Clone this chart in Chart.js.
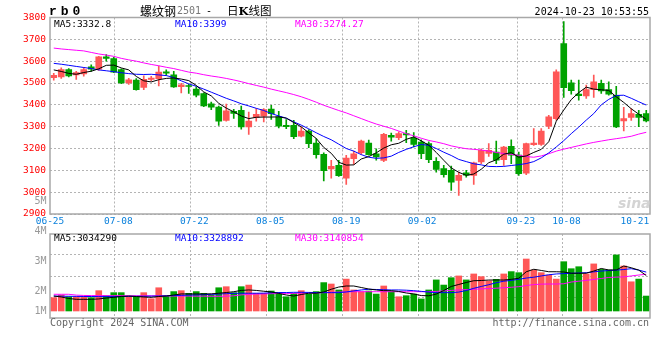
<!DOCTYPE html>
<html>
<head>
<meta charset="utf-8">
<script src="https://cdn.jsdelivr.net/npm/chart.js@4.4.1/dist/chart.umd.min.js"></script>
<style>
body { margin: 0; background: #fff; width: 660px; height: 360px; overflow: hidden; position: relative; }
canvas { position: absolute; left: 0; }
.m { position: absolute; white-space: nowrap; font-family: 'DejaVu Sans Mono', monospace; font-size: 9.5px; line-height: 12px; z-index: 2; }
.g { color: #999; font-size: 10px; text-align: right; width: 30px; left: 16.5px; }
</style>
</head>
<body>
<canvas id="kChart" width="660" height="232" style="top:0"></canvas>
<canvas id="volChart" width="660" height="100" style="top:226px"></canvas>

<div class="m" style="left:49px;top:4px;font-family:'Liberation Mono';font-weight:bold;font-size:13px;letter-spacing:4px;line-height:15px">rb0</div>
<div class="m" style="left:140px;top:3px;font-family:'Noto Sans CJK SC';font-size:12px;line-height:15px">螺纹钢</div>
<div class="m" style="left:177px;top:4.5px;color:#777;font-size:10px">2501</div>
<div class="m" style="left:206px;top:4.5px;font-size:10px">-</div>
<div class="m" style="left:227px;top:3px;font-family:'Noto Sans CJK SC';font-size:11.5px;line-height:15px">日<b style="font-family:'DejaVu Serif'">K</b>线图</div>
<div class="m" style="right:11px;top:5.5px;font-size:10px">2024-10-23 10:53:55</div>

<div class="m" id="lg5" style="left:54px;top:18px;color:#000"></div>
<div class="m" id="lg10" style="left:175px;top:18px;color:#0000ff"></div>
<div class="m" id="lg30" style="left:295px;top:18px;color:#ff00ff"></div>

<div class="m" id="vlg5" style="left:54px;top:232px;color:#000"></div>
<div class="m" id="vlg10" style="left:175px;top:232px;color:#0000ff"></div>
<div class="m" id="vlg30" style="left:295px;top:232px;color:#ff00ff"></div>

<div id="volLabels"></div>

<div class="m" style="left:618px;top:196px;font-family:'DejaVu Sans';font-weight:bold;font-style:italic;font-size:14px;color:#d4d4d4;line-height:14px;z-index:1">sina</div>

<div class="m" style="left:50px;top:316.5px;font-size:10px;color:#666">Copyright 2024 SINA.COM</div>
<div class="m" style="right:11px;top:316.5px;font-size:10px;color:#666">http://finance.sina.com.cn</div>

<script>
// trading days shown on the chart
var dates = ['06-25','06-26','06-27','06-28','07-01','07-02','07-03','07-04','07-05','07-08',
  '07-09','07-10','07-11','07-12','07-15','07-16','07-17','07-18','07-19','07-22',
  '07-23','07-24','07-25','07-26','07-29','07-30','07-31','08-01','08-02','08-05',
  '08-06','08-07','08-08','08-09','08-12','08-13','08-14','08-15','08-16','08-19',
  '08-20','08-21','08-22','08-23','08-26','08-27','08-28','08-29','08-30','09-02',
  '09-03','09-04','09-05','09-06','09-09','09-10','09-11','09-12','09-13','09-18',
  '09-19','09-20','09-23','09-24','09-25','09-26','09-27','09-30','10-08','10-09',
  '10-10','10-11','10-14','10-15','10-16','10-17','10-18','10-21','10-22','10-23'];

var xTickDates = ['06-25','07-08','07-22','08-05','08-19','09-02','09-23','10-08','10-21'];
var gridDates = ['07-08','07-22','08-05','08-19','09-02','09-23','10-08'];

var open = [3524,3528,3562,3537,3542,3574,3563,3620,3612,3562,
  3500,3513,3480,3516,3520,3551,3537,3483,3487,3472,
  3452,3405,3390,3329,3370,3375,3299,3342,3348,3380,
  3345,3306,3306,3256,3280,3225,3173,3106,3123,3064,
  3153,3181,3225,3176,3145,3260,3250,3268,3248,3229,
  3222,3141,3108,3100,3054,3089,3077,3138,3178,3184,
  3149,3210,3170,3087,3218,3219,3302,3337,3681,3501,
  3449,3441,3470,3498,3470,3444,3326,3342,3357,3360];
var high = [3544,3570,3566,3554,3571,3583,3622,3630,3618,3565,
  3521,3520,3533,3530,3577,3560,3554,3498,3495,3482,
  3455,3413,3394,3403,3379,3394,3367,3383,3383,3398,
  3370,3333,3329,3299,3287,3245,3180,3146,3146,3169,
  3188,3238,3238,3199,3270,3271,3276,3283,3273,3240,
  3230,3158,3123,3120,3092,3100,3138,3199,3222,3234,
  3210,3240,3184,3225,3291,3291,3352,3560,3781,3513,
  3513,3490,3536,3513,3505,3485,3388,3383,3375,3375];
var low = [3513,3521,3528,3516,3531,3553,3558,3600,3547,3497,
  3493,3467,3470,3510,3487,3535,3480,3455,3452,3436,
  3392,3378,3306,3325,3338,3288,3265,3325,3322,3333,
  3294,3291,3245,3253,3204,3156,3051,3064,3072,3035,
  3127,3173,3169,3146,3140,3234,3241,3227,3207,3153,
  3135,3092,3069,3008,2985,3069,3035,3130,3164,3130,
  3123,3130,3077,3080,3214,3214,3291,3330,3434,3449,
  3421,3429,3434,3452,3444,3295,3280,3329,3300,3322];
var close = [3535,3562,3533,3548,3562,3563,3620,3613,3550,3500,
  3515,3470,3517,3522,3550,3545,3482,3492,3484,3444,
  3395,3389,3325,3372,3361,3299,3326,3357,3378,3360,
  3302,3300,3254,3280,3222,3172,3098,3118,3075,3156,
  3176,3234,3172,3162,3265,3252,3268,3262,3219,3176,
  3149,3104,3080,3046,3077,3078,3134,3192,3192,3146,
  3207,3170,3085,3222,3225,3280,3345,3551,3479,3465,
  3442,3470,3505,3464,3449,3299,3337,3360,3342,3326];

var ma5 = [3560,3553,3544,3540,3548,3554,3565,3581,3582,3569,
  3560,3530,3510,3505,3515,3521,3523,3518,3511,3489,
  3459,3441,3407,3385,3368,3349,3337,3343,3344,3344,
  3345,3339,3319,3299,3272,3246,3205,3178,3137,3124,
  3125,3152,3163,3180,3202,3217,3224,3242,3253,3235,
  3215,3182,3146,3111,3091,3077,3083,3105,3135,3148,
  3174,3181,3160,3166,3182,3196,3231,3325,3376,3424,
  3456,3481,3472,3469,3466,3437,3411,3382,3357,3332.8];
var ma10 = [3590,3586,3581,3576,3571,3566,3560,3556,3552,3547,
  3543,3540,3539,3540,3537,3534,3525,3510,3496,3485,
  3472,3458,3444,3430,3418,3405,3395,3384,3374,3360,
  3349,3339,3322,3307,3290,3272,3255,3240,3220,3200,
  3188,3172,3160,3155,3157,3165,3182,3196,3208,3218,
  3215,3200,3183,3168,3150,3140,3130,3125,3118,3117,
  3118,3122,3126,3131,3140,3157,3180,3207,3236,3268,
  3298,3330,3360,3400,3425,3443,3444,3430,3414,3399];
var ma30 = [3660,3656,3653,3650,3647,3640,3633,3628,3622,3613,
  3606,3600,3592,3585,3579,3572,3566,3558,3550,3545,
  3538,3532,3527,3521,3514,3506,3497,3489,3481,3472,
  3464,3456,3447,3437,3425,3412,3398,3386,3374,3363,
  3350,3337,3324,3312,3302,3292,3280,3268,3258,3247,
  3237,3230,3222,3212,3205,3199,3196,3193,3188,3182,
  3177,3173,3169,3163,3160,3166,3176,3188,3197,3205,
  3213,3221,3228,3234,3240,3245,3250,3256,3266,3274.27];

// volume in millions
var volume = [1.14,1.37,1.22,1.22,1.22,1.14,1.74,1.31,1.57,1.57,
  1.22,1.22,1.57,1.05,1.99,1.28,1.66,1.74,1.51,1.66,
  1.51,1.37,1.99,2.08,1.57,2.08,2.22,1.51,1.51,1.71,
  1.57,1.22,1.51,1.74,1.45,1.66,2.43,2.31,1.80,2.73,
  1.80,1.66,1.71,1.45,2.14,1.66,1.22,1.31,1.45,1.03,
  1.80,2.66,2.22,2.85,3.00,2.66,3.17,2.94,2.57,2.71,
  3.17,3.37,3.28,4.45,3.51,3.28,3.08,2.73,4.22,3.62,
  3.79,3.17,4.03,3.56,3.51,4.80,3.85,2.50,2.73,1.28];
var volMa5 = [1.28,1.20,1.07,1.00,1.00,1.00,1.03,1.11,1.17,1.24,
  1.28,1.24,1.20,1.17,1.24,1.28,1.37,1.46,1.46,1.46,
  1.46,1.47,1.52,1.58,1.65,1.76,1.80,1.76,1.69,1.63,
  1.50,1.37,1.28,1.41,1.52,1.52,1.63,1.86,2.05,2.14,
  2.14,2.01,1.88,1.80,1.74,1.74,1.67,1.54,1.46,1.32,
  1.30,1.45,1.75,2.10,2.27,2.44,2.59,2.61,2.65,2.65,
  2.65,2.71,2.80,3.36,3.57,3.47,3.36,3.36,3.34,3.23,
  3.23,3.23,3.42,3.64,3.51,3.51,3.85,3.70,3.50,3.03429];
var volMa10 = [1.28,1.27,1.26,1.25,1.24,1.24,1.23,1.23,1.23,1.24,
  1.25,1.26,1.26,1.27,1.28,1.30,1.32,1.34,1.36,1.38,
  1.40,1.42,1.45,1.48,1.51,1.52,1.52,1.52,1.53,1.56,
  1.58,1.58,1.60,1.60,1.59,1.58,1.57,1.57,1.57,1.63,
  1.72,1.80,1.86,1.84,1.82,1.80,1.80,1.78,1.74,1.68,
  1.62,1.57,1.57,1.57,1.62,1.75,1.94,2.10,2.25,2.42,
  2.55,2.62,2.71,2.82,2.89,3.00,3.10,3.17,3.20,3.23,
  3.25,3.28,3.35,3.42,3.46,3.50,3.55,3.62,3.50,3.328892];
var volMa30 = [1.43,1.43,1.43,1.36,1.33,1.32,1.32,1.31,1.31,1.31,
  1.30,1.30,1.30,1.30,1.30,1.29,1.28,1.28,1.28,1.27,
  1.27,1.26,1.26,1.27,1.30,1.38,1.42,1.45,1.46,1.48,
  1.50,1.50,1.51,1.53,1.54,1.55,1.57,1.60,1.62,1.64,
  1.65,1.65,1.65,1.65,1.65,1.65,1.65,1.65,1.65,1.65,
  1.66,1.68,1.72,1.76,1.80,1.83,1.86,1.89,1.92,1.95,
  1.99,2.03,2.08,2.18,2.26,2.30,2.31,2.31,2.33,2.48,
  2.55,2.62,2.70,2.78,2.87,2.90,2.92,3.00,3.08,3.140854];

var priceMin = 2900, priceMax = 3800, priceStep = 100;
var volTickLabels = ['5M', '4M', '3M', '2M', '1M'];

var RED = '#ff5757', GREEN = '#00a200';
var FONT = 'DejaVu Sans Mono';
var last = dates.length - 1;

var colors = [];
for (var i = 0; i < close.length; i++) {
  colors.push(close[i] >= open[i] ? RED : GREEN);
}

// legends
document.getElementById('lg5').textContent = 'MA5:' + ma5[last];
document.getElementById('lg10').textContent = 'MA10:' + ma10[last];
document.getElementById('lg30').textContent = 'MA30:' + ma30[last];
document.getElementById('vlg5').textContent = 'MA5:' + Math.round(volMa5[last] * 1e6);
document.getElementById('vlg10').textContent = 'MA10:' + Math.round(volMa10[last] * 1e6);
document.getElementById('vlg30').textContent = 'MA30:' + Math.round(volMa30[last] * 1e6);

// volume axis labels (sina puts them on its own fixed rows)
var volLabelTops = [194.5, 224.5, 254.5, 284.5, 304.5];
var box = document.getElementById('volLabels');
for (var k = 0; k < volTickLabels.length; k++) {
  var d = document.createElement('div');
  d.className = 'm g';
  d.style.top = volLabelTops[k] + 'px';
  d.textContent = volTickLabels[k];
  box.appendChild(d);
}

// grey frame round the plot
var frame = {
  id: 'frame',
  afterDraw: function(chart) {
    var a = chart.chartArea;
    var c = chart.ctx;
    c.save();
    c.strokeStyle = '#a8a8a8';
    c.lineWidth = 1.5;
    c.strokeRect(a.left, a.top, a.right - a.left, a.bottom - a.top);
    c.restore();
  }
};

function maLine(data, color) {
  return {
    type: 'line', data: data, borderColor: color, borderWidth: 1,
    pointRadius: 0, tension: 0, xAxisID: 'x', yAxisID: 'y', order: 0
  };
}

function dateGrid(showLabels, h) {
  return {
    type: 'category', offset: false, position: 'bottom',
    grid: {
      drawTicks: false,
      color: function(ctx) {
        return gridDates.indexOf(dates[ctx.index]) >= 0 ? '#b4b4b4' : 'rgba(0,0,0,0)';
      }
    },
    border: { display: false, dash: [2, 2] },
    ticks: {
      display: showLabels, autoSkip: false, maxRotation: 0, padding: 2,
      color: '#0a80dc', font: { family: FONT, size: 9.5 },
      callback: function(v) {
        var lab = this.getLabelForValue(v);
        return xTickDates.indexOf(lab) >= 0 ? lab : '';
      }
    },
    afterFit: function(s) { s.height = h; }
  };
}

var kChart = new Chart(document.getElementById('kChart'), {
  type: 'bar',
  data: {
    labels: dates,
    datasets: [
      maLine(ma5, '#000000'),
      maLine(ma10, '#0000ff'),
      maLine(ma30, '#ff00ff'),
      {
        data: open.map(function(o, i) { return [o, close[i]]; }),
        backgroundColor: colors, barThickness: 6, minBarLength: 1,
        grouped: false, xAxisID: 'x', yAxisID: 'y', order: 1
      },
      {
        data: low.map(function(l, i) { return [l, high[i]]; }),
        backgroundColor: colors, barThickness: 1,
        grouped: false, xAxisID: 'x', yAxisID: 'y', order: 2
      }
    ]
  },
  options: {
    responsive: false,
    animation: false,
    layout: { padding: { top: 17.5, right: 10, left: 0, bottom: 0 } },
    plugins: { legend: { display: false }, tooltip: { enabled: false } },
    scales: {
      x: { type: 'category', offset: true, display: false },
      x2: dateGrid(true, 18),
      y: {
        min: priceMin, max: priceMax, position: 'left',
        ticks: {
          stepSize: priceStep, color: '#ff0000', padding: 4, font: { family: FONT, size: 9.5 },
          callback: function(v) { return String(v); }
        },
        grid: { color: '#b4b4b4', drawTicks: false },
        border: { display: false, dash: [2, 2] },
        afterFit: function(s) { s.width = 50; }
      }
    }
  },
  plugins: [frame]
});

var volChart = new Chart(document.getElementById('volChart'), {
  type: 'bar',
  data: {
    labels: dates,
    datasets: [
      maLine(volMa5, '#000000'),
      maLine(volMa10, '#0000ff'),
      maLine(volMa30, '#ff00ff'),
      {
        data: volume, backgroundColor: colors, barThickness: 6,
        xAxisID: 'x', yAxisID: 'y', order: 1
      }
    ]
  },
  options: {
    responsive: false,
    animation: false,
    layout: { padding: { top: 8, right: 10, left: 0, bottom: 8 } },
    plugins: { legend: { display: false }, tooltip: { enabled: false } },
    scales: {
      x: { type: 'category', offset: true, display: false },
      x2: dateGrid(false, 0),
      y: {
        min: -0.6, max: 6.59, position: 'left',
        ticks: { display: false },
        afterBuildTicks: function(s) {
          var t = [];
          for (var k = 1; k < 4; k++) t.push({ value: s.min + k * (s.max - s.min) / 4 });
          s.ticks = t;
        },
        grid: { color: '#b4b4b4', drawTicks: false },
        border: { display: false, dash: [2, 2] },
        afterFit: function(s) { s.width = 50; }
      }
    }
  },
  plugins: [frame]
});
</script>
</body>
</html>
